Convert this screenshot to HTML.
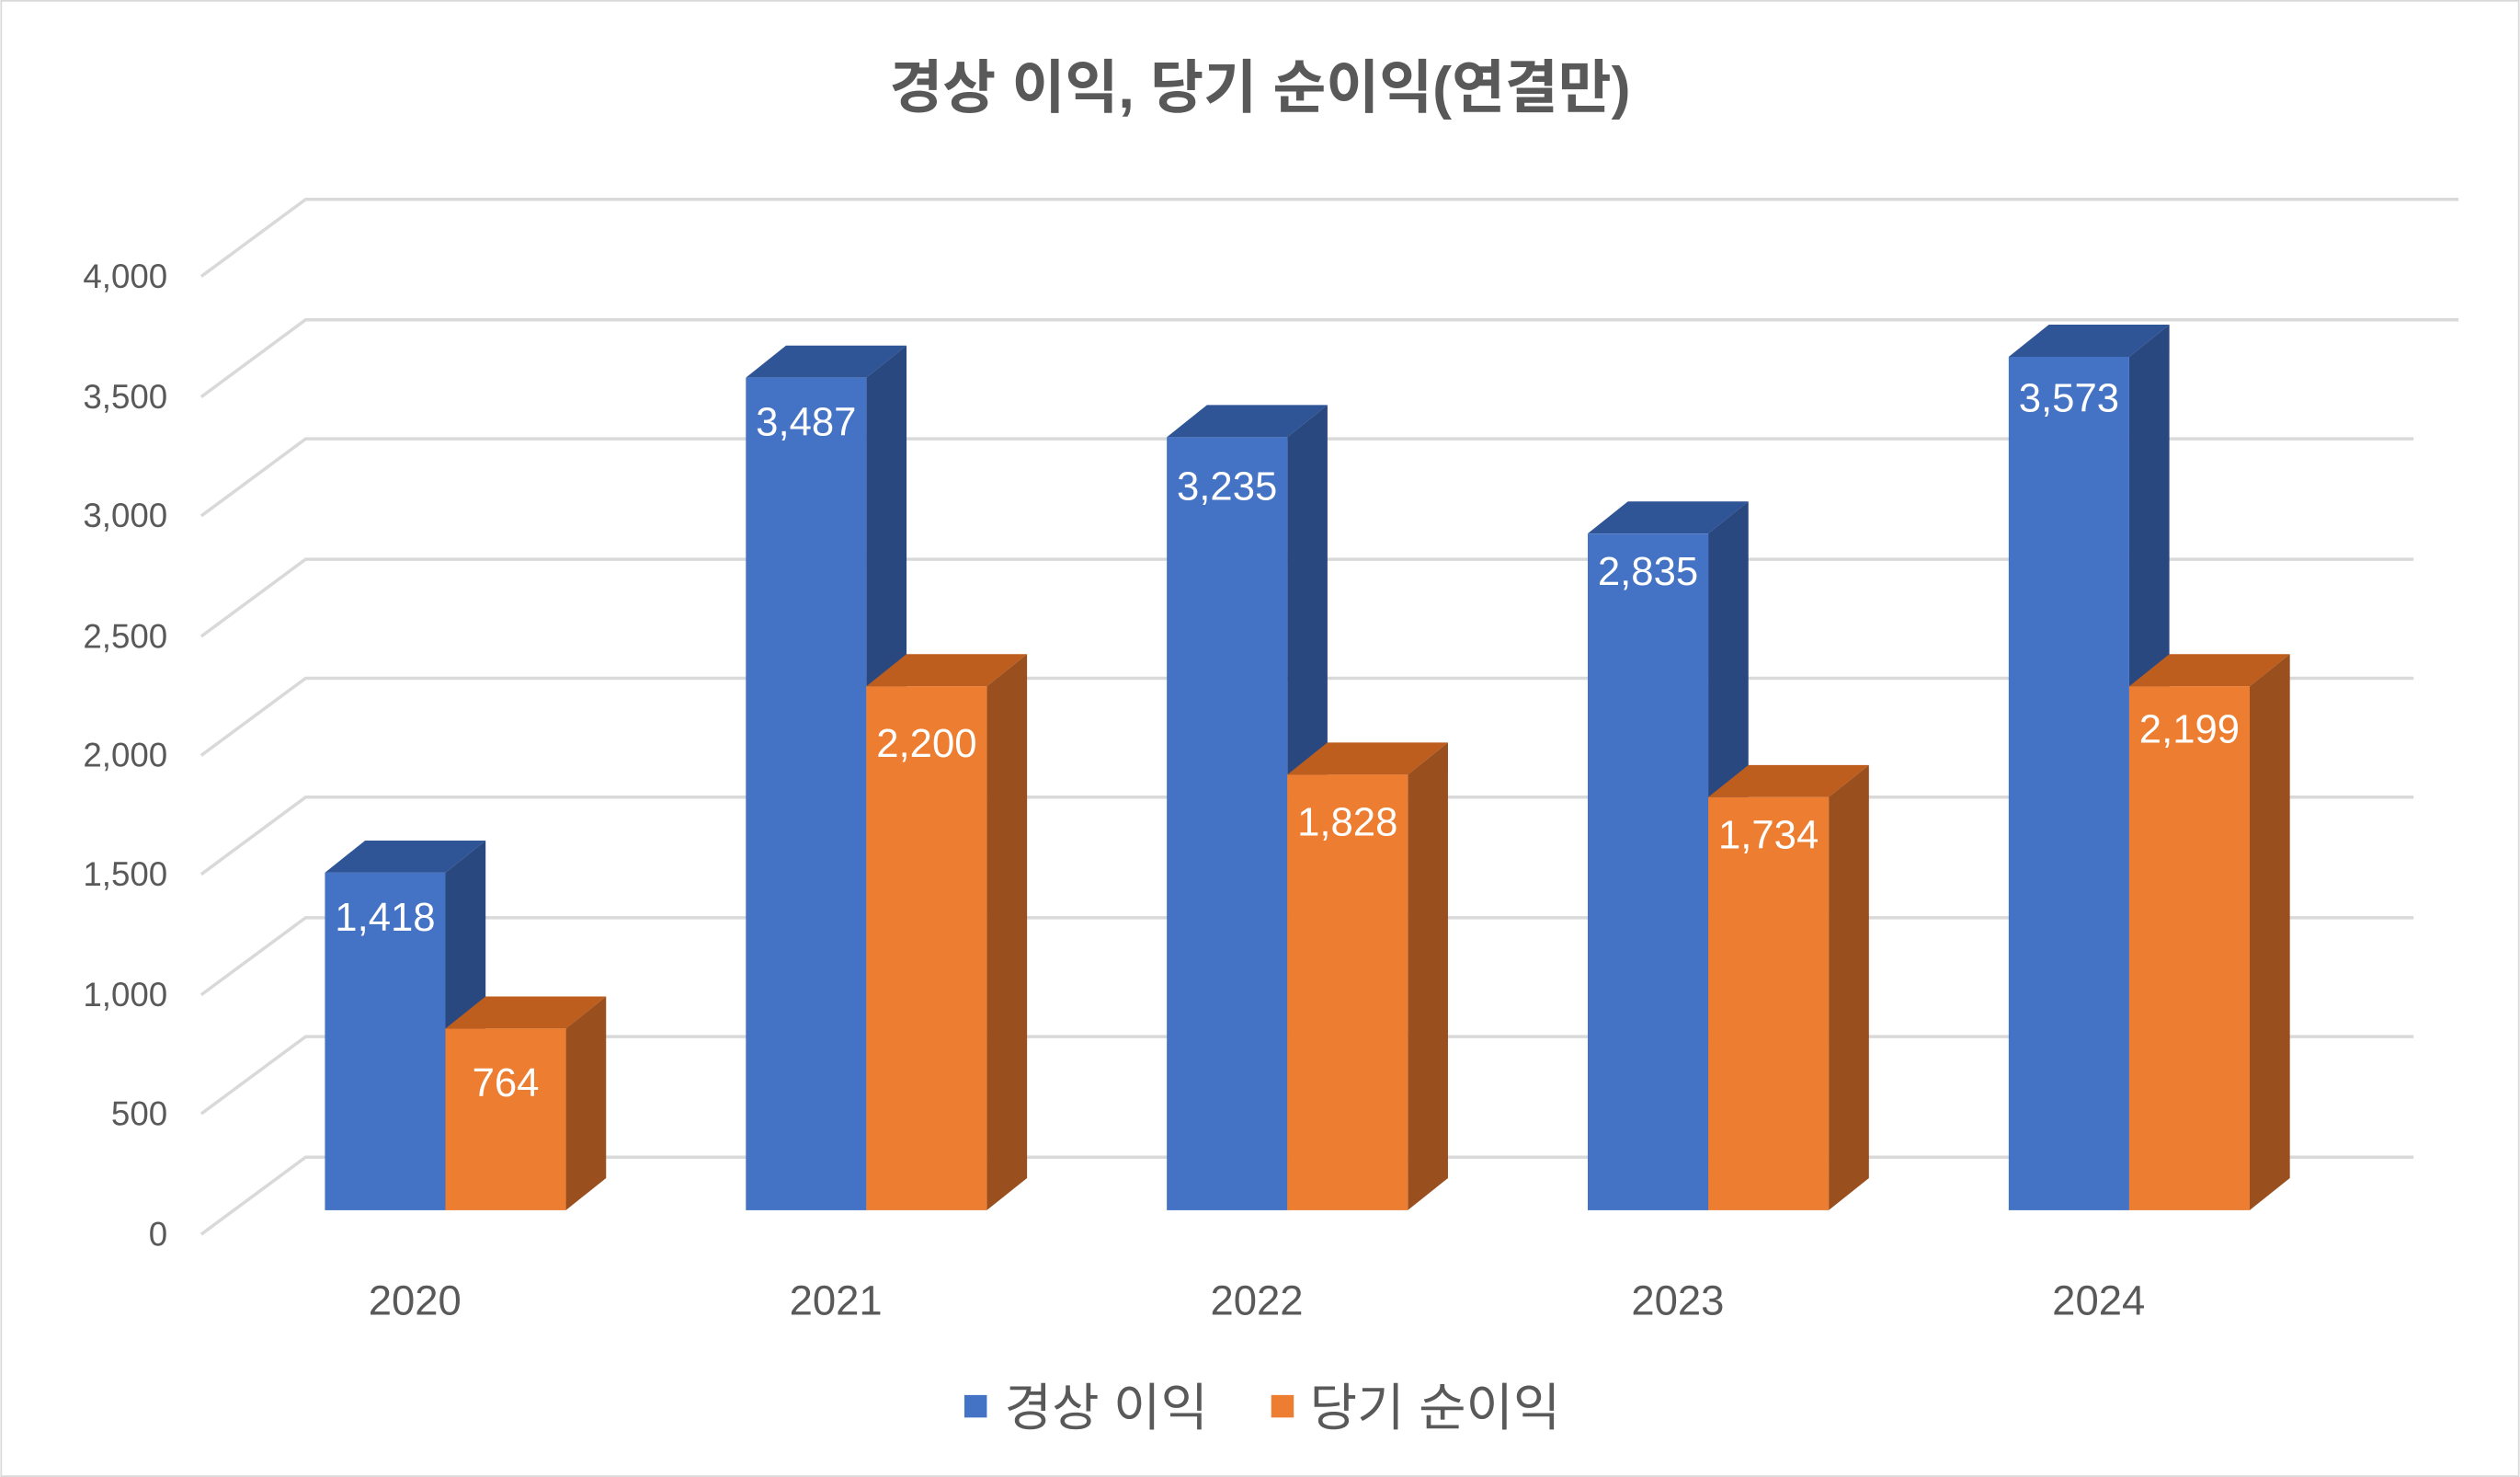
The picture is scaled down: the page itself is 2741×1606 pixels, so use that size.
<!DOCTYPE html>
<html><head><meta charset="utf-8"><style>
html,body{margin:0;padding:0;background:#fff}
svg{display:block}
text{font-family:"Liberation Sans","Noto Sans CJK KR",sans-serif}
</style></head><body>
<svg width="2741" height="1606" viewBox="0 0 1568 919" xmlns="http://www.w3.org/2000/svg">
<rect x="0.5" y="0.5" width="1567" height="918" fill="#fff" stroke="#d9d9d9" stroke-width="1"/>
<text x="784" y="67" text-anchor="middle" font-size="36" font-weight="bold" fill="#595959">경상 이익, 당기 순이익(연결만)</text>
<g stroke="#d9d9d9" stroke-width="2" fill="none">
<path d="M125 768L190 720H1502"/>
<path d="M125 693L190 645H1502"/>
<path d="M125 619L190 571H1502"/>
<path d="M125 544L190 496H1502"/>
<path d="M125 470L190 422H1502"/>
<path d="M125 396L190 348H1502"/>
<path d="M125 321L190 273H1502"/>
<path d="M125 247L190 199H1530"/>
<path d="M125 172L190 124H1530"/>
</g>
<g font-size="21" fill="#595959" text-anchor="end">
<text x="104" y="775">0</text><text x="104" y="700">500</text><text x="104" y="626">1,000</text>
<text x="104" y="551">1,500</text><text x="104" y="477">2,000</text><text x="104" y="403">2,500</text>
<text x="104" y="328">3,000</text><text x="104" y="254">3,500</text><text x="104" y="179">4,000</text>
</g>
<g font-size="26" fill="#595959" text-anchor="middle">
<text x="258" y="818">2020</text><text x="520" y="818">2021</text><text x="782" y="818">2022</text>
<text x="1044" y="818">2023</text><text x="1306" y="818">2024</text>
</g>
<rect x="600" y="868" width="14" height="14" fill="#4472C4"/>
<text x="625" y="887" font-size="32" fill="#595959">경상 이익</text>
<rect x="791" y="868" width="14" height="14" fill="#ED7D31"/>
<text x="815" y="887" font-size="32" fill="#595959">당기 순이익</text>
<g>
<polygon points="202,543 227,523 302,523 277,543" fill="#2F5597"/><polygon points="277,543 302,523 302,733 277,753" fill="#2A4880"/><rect x="202" y="543" width="75" height="210" fill="#4472C4"/><text x="239.5" y="579" font-size="25" fill="#fff" text-anchor="middle">1,418</text>
<polygon points="277,640 302,620 377,620 352,640" fill="#BE5E1E"/><polygon points="352,640 377,620 377,733 352,753" fill="#9A4F1F"/><rect x="277" y="640" width="75" height="113" fill="#ED7D31"/><text x="314.5" y="682" font-size="25" fill="#fff" text-anchor="middle">764</text>

<polygon points="464,235 489,215 564,215 539,235" fill="#2F5597"/><polygon points="539,235 564,215 564,733 539,753" fill="#2A4880"/><rect x="464" y="235" width="75" height="518" fill="#4472C4"/><text x="501.5" y="271" font-size="25" fill="#fff" text-anchor="middle">3,487</text>
<polygon points="539,427 564,407 639,407 614,427" fill="#BE5E1E"/><polygon points="614,427 639,407 639,733 614,753" fill="#9A4F1F"/><rect x="539" y="427" width="75" height="326" fill="#ED7D31"/><text x="576.5" y="471" font-size="25" fill="#fff" text-anchor="middle">2,200</text>

<polygon points="726,272 751,252 826,252 801,272" fill="#2F5597"/><polygon points="801,272 826,252 826,733 801,753" fill="#2A4880"/><rect x="726" y="272" width="75" height="481" fill="#4472C4"/><text x="763.5" y="311" font-size="25" fill="#fff" text-anchor="middle">3,235</text>
<polygon points="801,482 826,462 901,462 876,482" fill="#BE5E1E"/><polygon points="876,482 901,462 901,733 876,753" fill="#9A4F1F"/><rect x="801" y="482" width="75" height="271" fill="#ED7D31"/><text x="838.5" y="520" font-size="25" fill="#fff" text-anchor="middle">1,828</text>

<polygon points="988,332 1013,312 1088,312 1063,332" fill="#2F5597"/><polygon points="1063,332 1088,312 1088,733 1063,753" fill="#2A4880"/><rect x="988" y="332" width="75" height="421" fill="#4472C4"/><text x="1025.5" y="364" font-size="25" fill="#fff" text-anchor="middle">2,835</text>
<polygon points="1063,496 1088,476 1163,476 1138,496" fill="#BE5E1E"/><polygon points="1138,496 1163,476 1163,733 1138,753" fill="#9A4F1F"/><rect x="1063" y="496" width="75" height="257" fill="#ED7D31"/><text x="1100.5" y="528" font-size="25" fill="#fff" text-anchor="middle">1,734</text>

<polygon points="1250,222 1275,202 1350,202 1325,222" fill="#2F5597"/><polygon points="1325,222 1350,202 1350,733 1325,753" fill="#2A4880"/><rect x="1250" y="222" width="75" height="531" fill="#4472C4"/><text x="1287.5" y="256" font-size="25" fill="#fff" text-anchor="middle">3,573</text>
<polygon points="1325,427 1350,407 1425,407 1400,427" fill="#BE5E1E"/><polygon points="1400,427 1425,407 1425,733 1400,753" fill="#9A4F1F"/><rect x="1325" y="427" width="75" height="326" fill="#ED7D31"/><text x="1362.5" y="462" font-size="25" fill="#fff" text-anchor="middle">2,199</text>
</g>
</svg>
</body></html>
